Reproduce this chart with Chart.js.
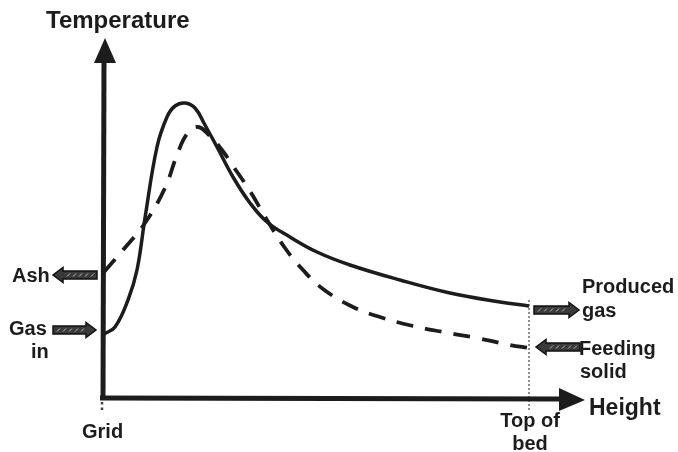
<!DOCTYPE html>
<html>
<head>
<meta charset="utf-8">
<script src="https://cdn.jsdelivr.net/npm/chart.js@4.4.1/dist/chart.umd.min.js"></script>
<style>
  html, body { margin: 0; padding: 0; background: #fff; }
  #wrap { width: 678px; height: 452px; }
</style>
</head>
<body>
<div id="wrap"><canvas id="tempChart" width="678" height="452"></canvas></div>
<script>
// values (height from grid, temperature above axis, arbitrary units)
const solidHeight = [1, 12, 25, 34, 42, 54, 64, 72, 82, 92, 102, 114, 130, 147, 164, 187, 214, 247, 297, 347, 397, 426];
const solidTemp   = [64, 71, 98, 128, 180, 251, 281, 292, 295, 290, 273, 251, 221, 195, 176, 161, 146, 133, 118, 105, 96, 92];

const dashedHeight = [1, 20, 42, 62, 74, 84, 95, 107, 119, 130, 147, 164, 182, 200, 220, 250, 280, 310, 340, 374, 407, 426];
const dashedTemp   = [126, 148, 175, 210, 243, 264, 271, 262, 248, 232, 207, 178, 150, 128, 109, 91, 80, 72, 66, 60, 53, 50];

const topOfBed = 426;
const heightMax = 426;
const tempMax = 360;

const toPoints = (xs, ys) => xs.map((x, i) => ({ x: x, y: ys[i] }));

const ink = "#1c1c1c";
const font = (size) => "bold " + size + "px 'Liberation Sans', Arial, sans-serif";

// small hatched arrows next to the curve ends
function smallArrow(ctx, tailX, tipX, y) {
    const dir = tipX > tailX ? 1 : -1;
    const headLen = 10, bodyH = 4, headH = 7.5;
    const baseX = tipX - dir * headLen;
    ctx.save();
    ctx.beginPath();
    ctx.moveTo(tailX, y - bodyH);
    ctx.lineTo(baseX, y - bodyH);
    ctx.lineTo(baseX, y - headH);
    ctx.lineTo(tipX, y);
    ctx.lineTo(baseX, y + headH);
    ctx.lineTo(baseX, y + bodyH);
    ctx.lineTo(tailX, y + bodyH);
    ctx.closePath();
    ctx.fillStyle = "#3a3a3a";
    ctx.fill();
    ctx.lineWidth = 1.5;
    ctx.strokeStyle = "#111";
    ctx.stroke();
    // speckle pattern inside the body
    ctx.strokeStyle = "#bbb";
    ctx.lineWidth = 1;
    const x0 = Math.min(tailX, baseX) + 4, x1 = Math.max(tailX, baseX) - 3;
    for (let x = x0; x < x1; x += 6) {
        ctx.beginPath();
        ctx.moveTo(x, y + 1.5);
        ctx.lineTo(x + 3, y - 1.5);
        ctx.stroke();
    }
    ctx.restore();
}

const sketchPlugin = {
    id: "sketch",
    beforeDatasetsDraw(chart) {
        const ctx = chart.ctx;
        const xs = chart.scales.x, ys = chart.scales.y;
        const x0 = xs.getPixelForValue(0);
        const y0 = ys.getPixelForValue(0);
        const xBed = xs.getPixelForValue(topOfBed);

        ctx.save();
        // dotted lines at grid and top of bed
        ctx.strokeStyle = "#444";
        ctx.lineWidth = 1.2;
        ctx.setLineDash([2, 2]);
        ctx.beginPath();
        ctx.moveTo(xBed, ys.getPixelForValue(solidTemp[solidTemp.length - 1]) - 6);
        ctx.lineTo(xBed, y0 + 14);
        ctx.stroke();
        ctx.lineWidth = 2.5;
        ctx.setLineDash([2.5, 3]);
        ctx.beginPath();
        ctx.moveTo(x0 - 1, y0 + 4);
        ctx.lineTo(x0 - 1, y0 + 15);
        ctx.stroke();
        ctx.setLineDash([]);

        // axes
        ctx.strokeStyle = ink;
        ctx.fillStyle = ink;
        ctx.lineWidth = 5;
        ctx.lineCap = "butt";
        ctx.beginPath();
        ctx.moveTo(x0, y0 + 2);
        ctx.lineTo(x0 + 1, 60);
        ctx.stroke();
        ctx.beginPath();
        ctx.moveTo(x0 - 3, y0);
        ctx.lineTo(562, y0 + 1);
        ctx.stroke();
        // arrow heads
        ctx.beginPath();
        ctx.moveTo(x0 + 2, 38);
        ctx.lineTo(x0 + 13, 63);
        ctx.lineTo(x0 - 9, 63);
        ctx.closePath();
        ctx.fill();
        ctx.beginPath();
        ctx.moveTo(585, y0 + 2);
        ctx.lineTo(559, y0 + 13);
        ctx.lineTo(559, y0 - 10);
        ctx.closePath();
        ctx.fill();
        ctx.restore();
    },
    afterDatasetsDraw(chart) {
        const ctx = chart.ctx;
        ctx.save();
        smallArrow(ctx, 97, 53, 275);
        smallArrow(ctx, 53, 96, 330);
        smallArrow(ctx, 534, 579, 310);
        smallArrow(ctx, 580, 536, 347);

        ctx.fillStyle = ink;
        ctx.textBaseline = "middle";
        ctx.textAlign = "left";
        ctx.font = font(24);
        ctx.fillText("Temperature", 46, 21);
        ctx.font = font(23);
        ctx.fillText("Height", 589, 409);

        ctx.font = font(20);
        ctx.fillText("Ash", 12, 276);
        ctx.fillText("Gas", 9, 329);
        ctx.fillText("in", 31, 352);
        ctx.fillText("Produced", 582, 287);
        ctx.fillText("gas", 582, 311);
        ctx.fillText("Feeding", 579, 349);
        ctx.fillText("solid", 580, 372);
        ctx.fillText("Grid", 82, 432);
        ctx.textAlign = "center";
        ctx.fillText("Top of", 530, 421);
        ctx.fillText("bed", 530, 444);
        ctx.restore();
    }
};

new Chart(document.getElementById("tempChart"), {
    type: "line",
    data: {
        datasets: [
            {
                label: "solid",
                data: toPoints(solidHeight, solidTemp),
                borderColor: ink,
                borderWidth: 3.5,
                pointRadius: 0,
                tension: 0.4,
                clip: false
            },
            {
                label: "dashed",
                data: toPoints(dashedHeight, dashedTemp),
                borderColor: ink,
                borderWidth: 3.8,
                borderDash: [17, 12],
                pointRadius: 0,
                tension: 0.4,
                clip: false
            }
        ]
    },
    options: {
        responsive: false,
        animation: false,
        devicePixelRatio: 1,
        layout: { padding: { left: 103, right: 678 - 529, top: 38, bottom: 54 } },
        scales: {
            x: { type: "linear", min: 0, max: heightMax, display: false },
            y: { min: 0, max: tempMax, display: false }
        },
        plugins: {
            legend: { display: false },
            tooltip: { enabled: false }
        }
    },
    plugins: [sketchPlugin]
});
</script>
</body>
</html>
